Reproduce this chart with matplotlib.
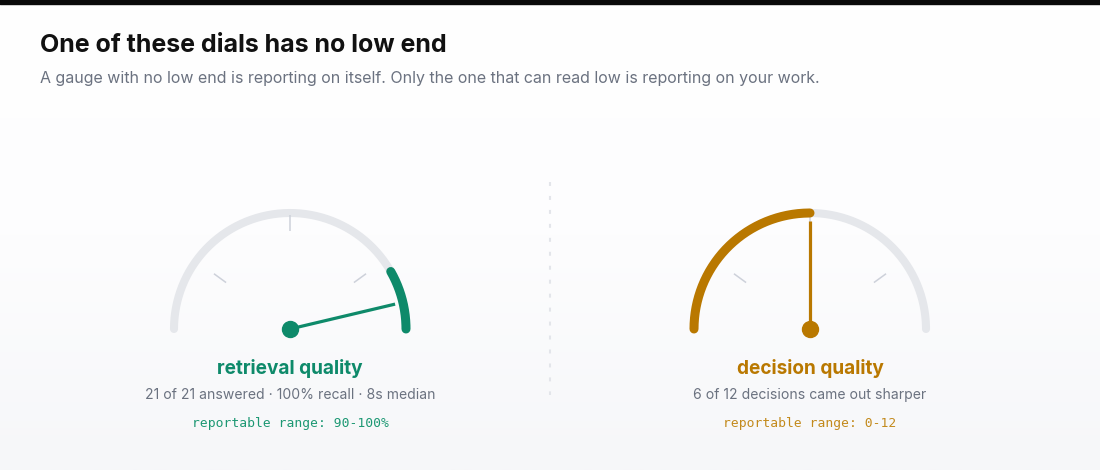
import numpy as np
import matplotlib.pyplot as plt
from matplotlib.colors import LinearSegmentedColormap

# gauge data (fractions of the dial, 0 = left end, 1 = right end)
names = ["retrieval quality", "decision quality"]
details = ["21 of 21 answered · 100% recall · 8s median",
           "6 of 12 decisions came out sharper"]
ranges = ["reportable range: 90-100%", "reportable range: 0-12"]
fill_from = [0.835, 0.0]
fill_to = [1.0, 0.5]
needle = [0.926, 0.5]
colors = ["#0e8a6a", "#b97800"]
range_colors = ["#1c9873", "#c38a1c"]
centers_x = [290, 810]
ticks = [0.2, 0.5, 0.8]

title = "One of these dials has no low end"
subtitle = ("A gauge with no low end is reporting on itself. "
            "Only the one that can read low is reporting on your work.")

plt.rcParams['font.family'] = ['Inter', 'DejaVu Sans']

fig = plt.figure(figsize=(11, 4.7), dpi=100)
ax = fig.add_axes([0, 0, 1, 1])
ax.set_xlim(0, 1100)
ax.set_ylim(470, 0)
ax.axis('off')

# background: white fading to a light grey
cmap = LinearSegmentedColormap.from_list("bg", ["#ffffff", "#fdfdfe", "#f6f7f9"])
grad = np.linspace(0, 1, 200).reshape(-1, 1)
ax.imshow(grad, cmap=cmap, extent=[0, 1100, 470, 0], aspect='auto', zorder=0)
ax.fill_between([0, 1100], 0, 4, color="#0a0a0a", zorder=1)

ax.text(40, 46, title, fontsize=18, fontweight='bold', color="#111111",
        va='center', ha='left')
ax.text(40, 78, subtitle, fontsize=11.5, color="#6b7280", va='center', ha='left')

# divider
ax.plot([550, 550], [182, 395], color="#e3e5ea", lw=1.5,
        linestyle=(0, (1.9, 4.8)), zorder=2)

R = 116
cy = 329


def pt(cx, frac, r):
    a = np.pi * (1 - np.asarray(frac))
    return cx + r * np.cos(a), cy - r * np.sin(a)


for i in range(2):
    cx = centers_x[i]
    # track
    t = np.linspace(0, 1, 200)
    x, y = pt(cx, t, R)
    ax.plot(x, y, color="#e5e7eb", lw=5.8, solid_capstyle='round', zorder=2)
    # ticks
    for tk in ticks:
        if tk == 0.5:
            r0, r1 = 98, 114
        else:
            r0, r1 = 79, 94
        x0, y0 = pt(cx, tk, r0)
        x1, y1 = pt(cx, tk, r1)
        ax.plot([x0, x1], [y0, y1], color="#cdd1da", lw=1.1,
                solid_capstyle='butt', zorder=3)
    # filled arc
    t = np.linspace(fill_from[i], fill_to[i], 200)
    x, y = pt(cx, t, R)
    ax.plot(x, y, color=colors[i], lw=6.5, solid_capstyle='round', zorder=4)
    # needle
    nx, ny = pt(cx, needle[i], 108)
    ax.plot([cx, nx], [cy, ny], color=colors[i], lw=2.3,
            solid_capstyle='butt', zorder=5)
    ax.plot(cx, cy, 'o', color=colors[i], markersize=11.5, zorder=6)

    ax.text(cx, 368, names[i], fontsize=13.7, fontweight='bold', color=colors[i],
            ha='center', va='center')
    ax.text(cx, 395, details[i], fontsize=10.1, color="#6b7280",
            ha='center', va='center')
    ax.text(cx, 423, ranges[i], fontsize=9.4, color=range_colors[i],
            family='DejaVu Sans Mono', ha='center', va='center')

fig.savefig("out.png", dpi=100)
